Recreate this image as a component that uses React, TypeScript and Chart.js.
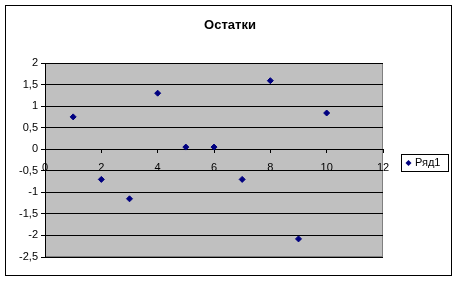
import React, { useEffect, useRef } from "react";
import { Chart, registerables } from "chart.js";

Chart.register(...registerables);

const chartTitle = "Остатки";
const seriesName = "Ряд1";
const xValues = [1, 2, 3, 4, 5, 6, 7, 8, 9, 10];
const residuals = [0.75, -0.7, -1.15, 1.3, 0.05, 0.05, -0.7, 1.59, -2.08, 0.84];
const yMin = -2.5;
const yMax = 2;
const yStep = 0.5;
const xMin = 0;
const xMax = 12;
const xStep = 2;

const FONT = "'Liberation Sans', Arial, sans-serif";
const fmt = (v: number) => String(Math.round(v * 10) / 10).replace(".", ",");

const decor = {
  id: "decor",
  beforeDraw(chart: any) {
    const { ctx, chartArea: a, width, height } = chart;
    ctx.save();
    ctx.fillStyle = "#ffffff";
    ctx.fillRect(0, 0, width, height);
    ctx.strokeStyle = "#000000";
    ctx.lineWidth = 1;
    ctx.strokeRect(5.5, 5.5, 446, 270);
    ctx.fillStyle = "#c0c0c0";
    ctx.fillRect(a.left, a.top, a.right - a.left, a.bottom - a.top);
    ctx.strokeStyle = "#808080";
    ctx.strokeRect(a.left + 0.5, a.top + 0.5, a.right - a.left - 1, a.bottom - a.top - 1);
    // title
    ctx.fillStyle = "#000";
    ctx.font = "bold 13px " + FONT;
    ctx.textAlign = "center";
    ctx.textBaseline = "middle";
    ctx.fillText(chartTitle, 230, 25);
    ctx.restore();
  },
  afterDraw(chart: any) {
    const { ctx } = chart;
    ctx.save();
    ctx.fillStyle = "#fff";
    ctx.fillRect(401, 154, 47, 17);
    ctx.strokeStyle = "#000";
    ctx.lineWidth = 1;
    ctx.strokeRect(401.5, 154.5, 47, 17);
    // marker
    ctx.fillStyle = "#000080";
    ctx.beginPath();
    const cx = 408.5, cy = 163;
    ctx.moveTo(cx, cy - 3);
    ctx.lineTo(cx + 3, cy);
    ctx.lineTo(cx, cy + 3);
    ctx.lineTo(cx - 3, cy);
    ctx.closePath();
    ctx.fill();
    ctx.fillStyle = "#000";
    ctx.font = "11px " + FONT;
    ctx.textAlign = "left";
    ctx.textBaseline = "middle";
    ctx.fillText(seriesName, 415, 163);
    ctx.restore();
  },
};

export default function App() {
  const ref = useRef<HTMLCanvasElement | null>(null);
  useEffect(() => {
    if (!ref.current) return;
    const chart = new Chart(ref.current, {
      type: "scatter",
      data: {
        datasets: [
          {
            label: seriesName,
            data: xValues.map((x, i) => ({ x, y: residuals[i] })),
            backgroundColor: "#000080",
            borderColor: "#000080",
            pointStyle: "rectRot",
            pointRadius: 3,
            pointHoverRadius: 3,
          },
        ],
      },
      options: {
        animation: false,
        responsive: false,
        events: [],
        layout: { padding: { left: 0, right: 75, top: 63, bottom: 25 } },
        plugins: { legend: { display: false }, title: { display: false }, tooltip: { enabled: false } },
        scales: {
          x: {
            type: "linear",
            min: xMin,
            max: xMax,
            position: { y: 0 } as any,
            grid: { drawOnChartArea: false, drawTicks: true, tickLength: 3, color: "#000" },
            border: { display: true, color: "#000" },
            ticks: {
              stepSize: xStep,
              color: "#000",
              font: { family: FONT, size: 11 },
              padding: 9,
              maxRotation: 0,
              callback: (v: any) => fmt(Number(v)),
            },
          },
          y: {
            type: "linear",
            min: yMin,
            max: yMax,
            afterFit: (s: any) => {
              s.width = 45;
            },
            grid: { drawOnChartArea: true, drawTicks: true, tickLength: 4, color: "#000" },
            border: { display: true, color: "#000" },
            ticks: {
              stepSize: yStep,
              color: "#000",
              font: { family: FONT, size: 11 },
              padding: 3,
              callback: (v: any) => fmt(Number(v)),
            },
          },
        },
      },
      plugins: [decor],
    });
    return () => chart.destroy();
  }, []);
  return (
    <div style={{ position: "fixed", left: 0, top: 0, width: 458, height: 282 }}>
      <canvas ref={ref} width={458} height={282} style={{ display: "block" }} />
    </div>
  );
}
